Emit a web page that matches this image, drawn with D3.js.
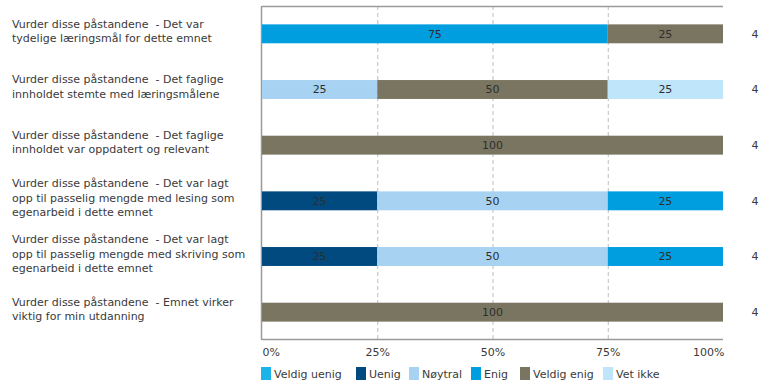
<!DOCTYPE html>
<html>
<head>
<meta charset="utf-8">
<script src="https://cdn.jsdelivr.net/npm/d3@7"></script>
<style>
  html, body { margin: 0; padding: 0; background: #fff; }
  svg { display: block; font-family: "DejaVu Sans", Verdana, sans-serif; }
  text { white-space: pre; }
</style>
</head>
<body>
<svg id="chart" width="763" height="385"></svg>
<script>
// Survey statements (each drawn on several lines)
const statements = [
  ["Vurder disse påstandene  - Det var", "tydelige læringsmål for dette emnet"],
  ["Vurder disse påstandene  - Det faglige", "innholdet stemte med læringsmålene"],
  ["Vurder disse påstandene  - Det faglige", "innholdet var oppdatert og relevant"],
  ["Vurder disse påstandene  - Det var lagt", "opp til passelig mengde med lesing som", "egenarbeid i dette emnet"],
  ["Vurder disse påstandene  - Det var lagt", "opp til passelig mengde med skriving som", "egenarbeid i dette emnet"],
  ["Vurder disse påstandene  - Emnet virker", "viktig for min utdanning"]
];

// Answer categories
const categories = ["Veldig uenig", "Uenig", "Nøytral", "Enig", "Veldig enig", "Vet ikke"];

// Percent of answers per category, one array per category (same order as statements)
const veldigUenig = [0, 0, 0, 0, 0, 0];
const uenig       = [0, 0, 0, 25, 25, 0];
const noytral     = [0, 25, 0, 50, 50, 0];
const enig        = [75, 0, 0, 25, 25, 0];
const veldigEnig  = [25, 50, 100, 0, 0, 100];
const vetIkke     = [0, 25, 0, 0, 0, 0];

// Number of respondents per statement
const respondents = [4, 4, 4, 4, 4, 4];

// Axis tick labels
const tickValues = [0, 25, 50, 75, 100];

const seriesValues = [veldigUenig, uenig, noytral, enig, veldigEnig, vetIkke];
const colors = ["#1bb3ea", "#004a7f", "#a8d2f2", "#009ddf", "#797561", "#bfe5fa"];

const svg = d3.select("#chart");
const FS = 11;
const TEXT = "#3a3a3a";
const plotTop = 6, plotBottom = 340;

const x = d3.scaleLinear().domain([0, 100]).range([262, 723]);
const y = d3.scaleBand().domain(d3.range(statements.length)).range([plotTop, plotBottom]).paddingInner(0.66).paddingOuter(0.33);
const color = d3.scaleOrdinal().domain(categories).range(colors);

// Stack the category arrays into one table
const rows = statements.map((s, i) => {
  const r = { idx: i };
  categories.forEach((c, k) => r[c] = seriesValues[k][i]);
  return r;
});
const stacked = d3.stack().keys(categories)(rows);

// Dashed vertical gridlines
svg.append("g")
  .selectAll("line")
  .data(tickValues.filter(t => t > 0 && t < 100))
  .join("line")
  .attr("x1", d => x(d) + 0.5).attr("x2", d => x(d) + 0.5)
  .attr("y1", plotTop).attr("y2", plotBottom)
  .attr("stroke", "#bdbdbd")
  .attr("stroke-dasharray", "4,3");

// Frame: top, bottom and left edges
const frame = svg.append("g").attr("stroke", "#9a9a9a").attr("stroke-width", 1.5);
frame.append("line").attr("x1", x(0)).attr("x2", x(100)).attr("y1", plotTop + 0.5).attr("y2", plotTop + 0.5);
frame.append("line").attr("x1", x(0)).attr("x2", x(100)).attr("y1", plotBottom - 0.5).attr("y2", plotBottom - 0.5);
frame.append("line").attr("x1", x(0) - 0.5).attr("x2", x(0) - 0.5).attr("y1", plotTop).attr("y2", plotBottom);

// Bars
const layers = svg.append("g").selectAll("g")
  .data(stacked)
  .join("g")
  .attr("fill", d => color(d.key));

layers.selectAll("rect")
  .data(d => d.filter(p => p[1] - p[0] > 0))
  .join("rect")
  .attr("x", p => x(p[0]))
  .attr("width", p => x(p[1]) - x(p[0]))
  .attr("y", p => y(p.data.idx))
  .attr("height", y.bandwidth());

// Value labels inside bars
layers.selectAll("text")
  .data(d => d.filter(p => p[1] - p[0] > 0))
  .join("text")
  .attr("x", p => (x(p[0]) + x(p[1])) / 2)
  .attr("y", p => y(p.data.idx) + y.bandwidth() / 2)
  .attr("dy", "0.36em")
  .attr("text-anchor", "middle")
  .attr("font-size", FS)
  .attr("fill", d => "#2e2e2e")
  .text(p => p[1] - p[0]);

// Statement labels
const lineH = 14.5;
const labels = svg.append("g").selectAll("text")
  .data(statements)
  .join("text")
  .attr("x", 12)
  .attr("y", (d, i) => y(i) + y.bandwidth() / 2 - (d.length - 1) * lineH / 2 + 1)
  .attr("dy", "0.36em")
  .attr("font-size", FS)
  .attr("fill", TEXT);
labels.selectAll("tspan")
  .data(d => d)
  .join("tspan")
  .attr("x", 12)
  .attr("dy", (d, i) => i === 0 ? 0 : lineH)
  .text(d => d);

// Respondent counts
svg.append("g").selectAll("text")
  .data(respondents)
  .join("text")
  .attr("x", 755)
  .attr("y", (d, i) => y(i) + y.bandwidth() / 2)
  .attr("dy", "0.36em")
  .attr("text-anchor", "middle")
  .attr("font-size", FS)
  .attr("fill", TEXT)
  .text(d => d);

// X axis tick labels
const axis = svg.append("g")
  .attr("transform", "translate(0,348)")
  .call(d3.axisBottom(x).tickValues(tickValues).tickFormat(d => d + "%").tickSize(0).tickPadding(0));
axis.select(".domain").remove();
axis.selectAll("text")
  .attr("font-size", FS)
  .attr("fill", TEXT)
  .attr("font-family", "DejaVu Sans, Verdana, sans-serif")
  .attr("text-anchor", d => d === 0 ? "start" : d === 100 ? "end" : "middle")
  .attr("dx", d => d === 0 ? 0 : d === 100 ? 1 : 0);

// Legend
const legendX = [261, 356, 409, 471, 520, 603];
const legend = svg.append("g").selectAll("g")
  .data(categories)
  .join("g")
  .attr("transform", (d, i) => `translate(${legendX[i]},367)`);
legend.append("rect").attr("width", 10).attr("height", 13).attr("fill", d => color(d));
legend.append("text")
  .attr("x", 13).attr("y", 7).attr("dy", "0.36em")
  .attr("font-size", FS).attr("fill", TEXT)
  .text(d => d);
</script>
</body>
</html>
